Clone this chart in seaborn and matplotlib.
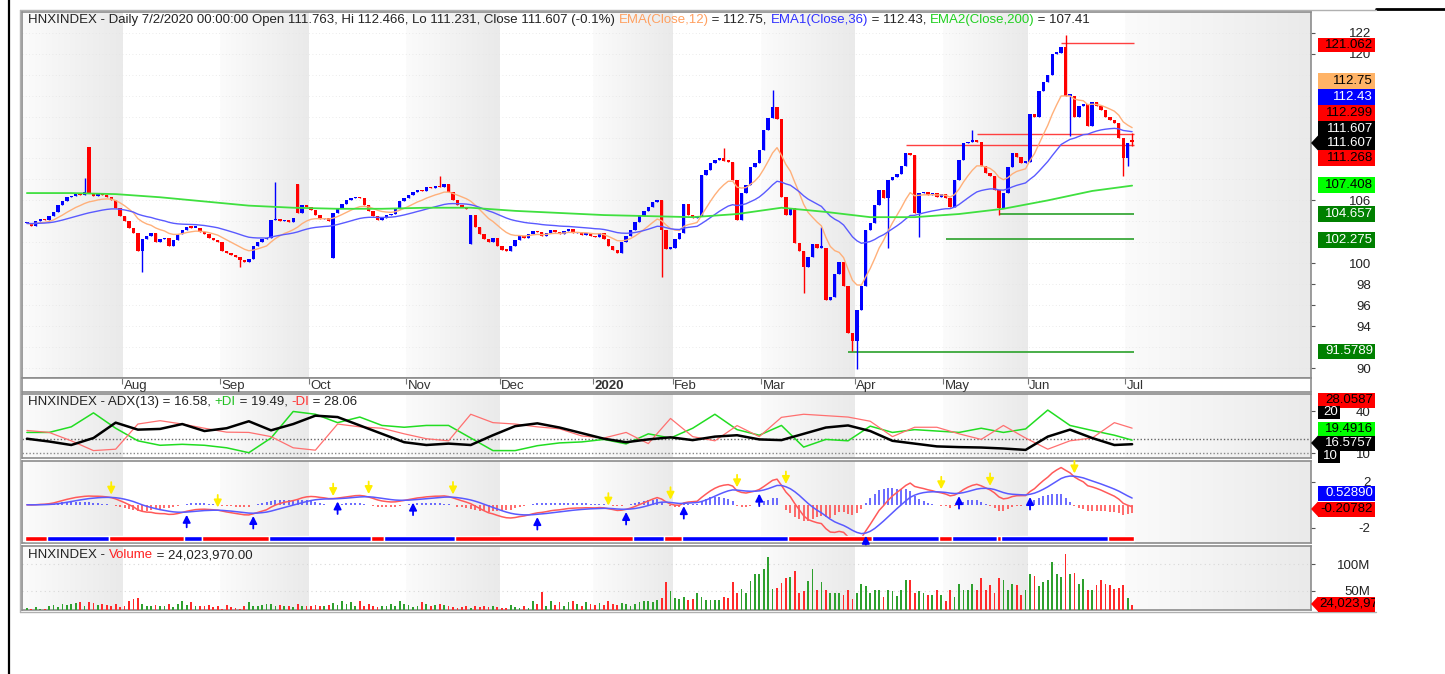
import numpy as np
import pandas as pd
import matplotlib
matplotlib.use("Agg")
import matplotlib.pyplot as plt
from matplotlib.patches import Rectangle, Polygon
from matplotlib.lines import Line2D
from matplotlib.colors import LinearSegmentedColormap
from matplotlib.transforms import Bbox, TransformedBbox
import seaborn as sns

# ---------------- data ----------------
# daily closes of HNXINDEX, early Jul 2019 .. 2 Jul 2020 (one value per session)
close = [
    103.8, 103.6, 104.0, 104.2, 104.1, 104.5, 104.9, 105.6, 105.9, 106.3,
    106.4, 106.6, 106.5, 106.8, 106.7, 106.4, 106.6, 106.5, 106.3, 106.0,
    105.3, 104.5, 104.0, 103.4, 102.9, 101.2, 102.3, 102.6, 102.9, 102.0,
    102.3, 102.4, 101.6, 102.2, 102.8, 103.2, 103.5, 103.4, 103.4, 103.0,
    102.8, 102.4, 102.2, 102.0, 101.2, 101.0, 100.8, 100.6, 100.3, 100.1,
    100.4, 101.6, 102.0, 102.3, 102.4, 104.1, 104.2, 104.0, 104.1, 103.9,
    104.3, 104.8, 105.6, 105.4, 105.1, 104.6, 104.2, 104.3, 104.0, 104.8,
    105.3, 105.7, 106.0, 106.2, 106.3, 106.2, 105.6, 105.0, 104.5, 104.1,
    104.3, 104.6, 104.7, 105.2, 105.9, 106.2, 106.5, 106.8, 107.0, 106.9,
    107.3, 107.2, 107.4, 107.3, 107.6, 106.8, 106.0, 105.6, 105.4, 105.2,
    104.6, 103.5, 102.8, 102.3, 102.0, 102.4, 101.6, 101.3, 101.2, 101.6,
    102.2, 102.6, 102.4, 102.8, 103.1, 103.0, 102.6, 102.9, 103.2, 103.0,
    102.8, 103.1, 103.3, 102.9, 103.0, 102.7, 102.9, 102.6, 102.5, 102.9,
    102.3, 101.6, 101.3, 101.0, 102.0, 102.6, 103.2, 103.9, 104.5, 105.0,
    105.4, 105.8, 106.0, 103.2, 101.4, 101.5, 102.3, 102.9, 105.7, 104.6,
    104.3, 104.5, 108.4, 108.9, 109.6, 109.9, 110.0, 109.8, 109.7, 107.9,
    104.1, 106.7, 107.5, 109.2, 109.6, 110.8, 112.7, 113.9, 114.9, 113.8,
    106.3, 104.6, 105.3, 101.9, 101.2, 99.6, 100.6, 101.8, 101.5, 101.5,
    96.5, 96.8, 99.0, 100.1, 97.8, 93.3, 92.6, 95.5, 97.8, 103.2,
    103.8, 105.6, 107.0, 106.2, 107.9, 108.2, 108.5, 109.3, 110.5, 110.3,
    104.8, 106.7, 106.8, 106.5, 106.7, 106.3, 106.6, 106.2, 105.4, 107.9,
    109.9, 111.5, 111.6, 111.8, 111.6, 109.3, 108.6, 108.3, 107.0, 105.3,
    106.7, 109.2, 110.5, 110.1, 109.6, 109.7, 114.2, 114.0, 116.4, 117.3,
    118.0, 120.0, 120.1, 120.6, 116.0, 116.0, 114.0, 115.0, 115.2, 113.1,
    115.4, 115.0, 114.6, 114.0, 113.7, 113.4, 112.0, 110.0, 111.5, 111.607,
]
# opens equal the previous close except where the chart shows a gap
open_gap = {14: 111.1, 61: 107.6, 69: 100.5, 100: 101.8, 249: 111.763}
# visible shadows beyond the body
high_wick = {13: 108.1, 56: 107.8, 93: 108.3, 157: 111.0, 168: 116.5, 179: 103.5,
             213: 112.7, 234: 121.8, 249: 112.466}
low_wick = {26: 99.2, 48: 99.6, 143: 98.7, 175: 97.2, 186: 91.58, 187: 89.9, 194: 101.5,
            201: 102.5, 219: 104.6, 235: 112.1, 247: 108.3, 248: 109.3, 249: 111.231}

# EMA(Close,200) read every 10 sessions
ema200_idx = [0, 10, 20, 30, 40, 50, 60, 70, 80, 90, 100, 110, 120, 130, 140, 150,
              160, 170, 180, 190, 200, 210, 220, 230, 240, 249]
ema200 = [106.7, 106.7, 106.6, 106.3, 105.9, 105.5, 105.3, 105.2, 105.2, 105.3, 105.3,
          105.0, 104.8, 104.6, 104.5, 104.4, 104.7, 105.3, 104.9, 104.4, 104.4, 104.7,
          105.2, 106.0, 106.9, 107.41]

# support / resistance lines: level and first session
red_levels = [121.062, 112.299, 111.268]
red_from = [233, 214, 198]
green_levels = [104.657, 102.275, 91.5789]
green_from = [219, 207, 185]

# ADX(13) panel, read every 5 sessions
adx_idx = list(range(0, 250, 5)) + [249]
adx = [20.5, 18.5, 16, 21, 32, 27, 27.5, 31, 26, 28, 33, 26.5, 31, 37, 36, 30, 24, 18,
       16, 17, 16, 23, 29.5, 31.5, 28.5, 24.5, 20.5, 18, 20, 21.5, 19.5, 22, 23, 20,
       19.5, 24, 28.5, 30, 26, 19, 17, 15, 14.5, 14.2, 13.5, 12.5, 22, 27, 21, 16, 16.58]
plus_di = [25, 25, 29, 39, 28, 19, 15.8, 16.5, 15.8, 14, 10.5, 21, 40, 38, 32, 36, 30,
           28.7, 30, 30, 21, 12, 12, 15.5, 17.5, 18.2, 20, 16.8, 24, 21, 28, 38, 27, 23,
           30, 14.5, 20, 19, 29.5, 25, 27, 26, 25, 28, 25, 27.5, 41, 30, 26.4, 23, 19.49]
minus_di = [26.4, 25, 19, 12, 13, 31, 33.4, 31, 28, 25.2, 25, 22, 14, 12.3, 31, 29, 28,
            24, 20.5, 19, 38, 32, 31, 29, 27.6, 22.5, 21, 25, 17, 35, 22, 19, 29.9, 22,
            35.8, 38, 37, 36, 33, 22, 28.7, 28.7, 24, 20, 30, 21, 13, 19, 21, 32, 28.06]

# MACD signal arrows and the trend strip under the MACD panel
sell_idx = [19, 43, 69, 77, 96, 131, 145, 160, 171, 206, 217, 236]
buy_idx = [36, 51, 70, 87, 115, 135, 148, 165, 189, 210, 226]
strip_start = [0, 5, 19, 36, 40, 55, 78, 81, 97, 137, 144, 148, 172, 191, 206, 209,
               219, 220, 244]
strip_up = [0, 1, 0, 1, 0, 1, 0, 1, 0, 1, 0, 1, 0, 1, 0, 1, 0, 1, 0]

# volume in millions
volume = [
    17, 15, 19, 16, 16, 22, 24, 20, 25, 23, 26, 27, 28, 22, 28, 27, 24, 25, 23, 22,
    26, 19, 22, 30, 35, 37, 26, 22, 21, 24, 22, 22, 25, 20, 25, 30, 24, 28, 22, 22,
    21, 23, 20, 22, 16, 24, 19, 17, 16, 22, 28, 22, 21, 23, 25, 26, 22, 24, 22, 21,
    20, 25, 22, 21, 22, 23, 22, 22, 24, 27, 23, 31, 25, 28, 22, 30, 22, 26, 22, 20,
    22, 21, 26, 22, 30, 26, 24, 20, 22, 28, 25, 22, 24, 26, 23, 22, 20, 17, 19, 22,
    17, 21, 20, 22, 19, 22, 20, 18, 17, 23, 20, 17, 22, 18, 30, 25, 47, 22, 30, 24,
    29, 22, 28, 30, 25, 22, 28, 26, 24, 27, 23, 31, 26, 24, 27, 25, 22, 26, 28, 30,
    30, 28, 33, 36, 66, 50, 36, 34, 38, 33, 34,
    45, 39, 33, 33, 33, 33, 39, 36, 67, 45, 54, 45, 69, 81, 81, 91, 114, 53, 56, 65,
    73, 75, 86, 45, 50, 69, 91, 51, 66, 52, 45, 45, 45, 42, 51, 34, 45, 63, 59, 45,
    51, 51, 39, 52, 50, 40, 52, 70, 70, 46, 49, 46, 42, 42, 51, 42, 30, 52, 39, 63,
    52, 52, 63, 52, 73, 51, 60, 45, 73, 70, 52, 63, 60, 42, 51, 81, 78, 59, 66, 70,
    104, 82, 75, 119, 82, 84, 63, 71, 51, 51, 60, 70, 62, 60, 54, 55, 60, 36, 24,
]

month_names = ['Aug', 'Sep', 'Oct', 'Nov', 'Dec', '2020', 'Feb', 'Mar', 'Apr', 'May', 'Jun', 'Jul']
month_start = [22, 44, 64, 86, 107, 128, 146, 166, 187, 207, 226, 248]

# right-hand scale labels that stay visible next to the value tags
price_ticks = [90, 94, 96, 98, 100, 106, 120, 122]
adx_ticks = [10, 40]
macd_ticks = [-2, 2]
vol_ticks = [50, 100]

price_tags = [121.062, 112.75, 112.43, 112.299, 111.607, 111.607, 111.268, 107.408,
              104.657, 102.275, 91.5789]
adx_tags = [28.0587, 20, 19.4916, 16.5757, 10]
macd_tags = [0.52890, -0.20782]

# ---------------- figure ----------------
sns.set_theme(style='white')
plt.rcParams['font.family'] = ['Liberation Sans', 'DejaVu Sans']
FS = 9.5
W, H = 1445, 674
fig = plt.figure(figsize=(W / 100, H / 100), dpi=100)
fig.patch.set_facecolor('white')


def add_ax(x0, y0, x1, y1):
    return fig.add_axes([x0 / W, 1 - y1 / H, (x1 - x0) / W, (y1 - y0) / H])


XL = (-1.1, 289.3)
idx = np.arange(len(close))
c = np.array(close)
o = np.r_[c[0], c[:-1]]
for k, v in open_gap.items():
    o[k] = v
hi = np.maximum(o, c)
lo = np.minimum(o, c)
for k, v in high_wick.items():
    hi[k] = v
for k, v in low_wick.items():
    lo[k] = v
up = c >= o

grad = LinearSegmentedColormap.from_list('g', ['#fbfbfb', '#eaeaea'])


def shade(ax, ylo, yhi):
    edges = [XL[0]] + [m - 0.5 for m in month_start] + [XL[1]]
    for k in range(0, len(edges) - 1, 2):
        ax.imshow(np.linspace(0, 1, 64).reshape(1, -1), cmap=grad, aspect='auto',
                  extent=(edges[k], edges[k + 1], ylo, yhi), zorder=0)
    ax.set_xlim(XL)
    ax.set_ylim(ylo, yhi)


def style(ax, ticks, labels):
    ax.yaxis.tick_right()
    ax.set_xticks([])
    ax.set_yticks(ticks)
    ax.set_yticklabels(labels)
    ax.tick_params(axis='y', direction='out', length=3, width=0.8, color='#555',
                   labelcolor='#222', labelsize=FS, pad=40, right=True, left=False)
    plt.setp(ax.get_yticklabels(), ha='right')
    for s in ax.spines.values():
        s.set_color('#8c8c8c')
        s.set_linewidth(1.2)


def rich(ax, x, y, parts):
    t = ax.text(x, y, parts[0][0], color=parts[0][1], fontsize=FS, transform=ax.transAxes,
                va='center', ha='left', zorder=20)
    for s, col in parts[1:]:
        t = ax.annotate(s, xy=(1, 0), xycoords=t, va='bottom', ha='left', color=col,
                        fontsize=FS, zorder=20, annotation_clip=False)


def tag(y, text, fc, tc, x0=1318, x1=1375, h=15, arrow=False, left=False):
    fig.add_artist(Rectangle((x0 / W, 1 - (y + h / 2) / H), (x1 - x0) / W, h / H,
                             transform=fig.transFigure, fc=fc, ec='none', zorder=10))
    if arrow:
        fig.add_artist(Polygon([(1311 / W, 1 - y / H), (x0 / W, 1 - (y - h / 2) / H),
                                (x0 / W, 1 - (y + h / 2) / H)], closed=True,
                               transform=fig.transFigure, fc=fc, ec='none', zorder=10))
    if left:
        t = fig.text((x0 + 1) / W, 1 - y / H, text, ha='left', va='center', color=tc,
                     fontsize=FS, zorder=11)
        t.set_clip_box(TransformedBbox(Bbox([[x0 / W, 0], [x1 / W, 1]]), fig.transFigure))
        t.set_clip_on(True)
    else:
        fig.text((x1 - 2) / W, 1 - y / H, text, ha='right', va='center', color=tc,
                 fontsize=FS, zorder=11)


# ---- price panel ----
ax = add_ax(22, 12, 1311, 378)
shade(ax, 89.05, 123.98)
for v in range(90, 123, 2):
    ax.axhline(v, color='#e4e4e4', lw=0.6, ls=(0, (1, 3)), zorder=1)
col = np.where(up, '#0000FF', '#FF0000')
ax.vlines(idx, lo, hi, colors=col, lw=1, zorder=3)
ax.bar(idx, np.maximum(np.abs(c - o), 0.12), bottom=np.minimum(o, c), width=0.76,
       color=col, linewidth=0, zorder=4)
ema12 = pd.Series(close).ewm(span=12, adjust=False).mean()
ema36 = pd.Series(close).ewm(span=36, adjust=False).mean()
sns.lineplot(x=idx, y=ema12, ax=ax, color='#FFB07A', lw=1, zorder=5)
sns.lineplot(x=idx, y=ema36, ax=ax, color='#5A5AFF', lw=1, zorder=5)
sns.lineplot(x=ema200_idx, y=ema200, ax=ax, color='#3FE03F', lw=1.3, zorder=5)
last = len(close) - 0.5
ax.hlines(red_levels, red_from, last, colors='#FF4040', lw=1, zorder=2)
ax.hlines(green_levels, green_from, last, colors='#3AA83A', lw=1.3, zorder=2)
ax.set_xlim(XL)
ax.set_ylim(89.05, 123.98)
ax.set_ylabel('')
style(ax, price_ticks, [str(v) for v in price_ticks])
rich(ax, 6 / 1289, 1 - 8 / 366, [
    ('HNXINDEX - Daily 7/2/2020 00:00:00 Open 111.763, Hi 112.466, Lo 111.231, '
     'Close 111.607 (-0.1%) ', '#222'),
    ('EMA(Close,12)', '#FFA060'), (' = 112.75, ', '#222'),
    ('EMA1(Close,36)', '#3030FF'), (' = 112.43, ', '#222'),
    ('EMA2(Close,200)', '#20D020'), (' = 107.41', '#222')])

tag_y = [45, 81, 97, 113, 129, 143, 158, 185, 214, 240, 351]
tag_h = [13, 15, 15, 15, 15, 15, 15, 15, 15, 15, 15]
tag_fc = ['#FF0000', '#FFB366', '#0000FF', '#FF0000', '#000000', '#000000', '#FF0000',
          '#00FF00', '#008000', '#008000', '#008000']
tag_tc = ['black', 'black', 'white', 'black', 'white', 'white', 'black', 'black',
          'white', 'white', 'white']
for k, v in enumerate(price_tags):
    tag(tag_y[k], f'{v:g}', tag_fc[k], tag_tc[k], h=tag_h[k], arrow=(k == 5))

# ---- month row ----
axm = add_ax(22, 378, 1311, 392)
axm.set_xlim(XL)
axm.set_ylim(0, 1)
axm.set_xticks([])
axm.set_yticks([])
for s in axm.spines.values():
    s.set_color('#8c8c8c')
    s.set_linewidth(1.2)
for m, name in zip(month_start, month_names):
    axm.vlines(m - 0.5, 0.55, 1, color='#777', lw=0.8)
    axm.text(m - 0.2, 0.42, name, ha='left', va='center', fontsize=FS, color='#333',
             fontweight='bold' if name == '2020' else 'normal')

# ---- ADX panel ----
ax2 = add_ax(22, 394, 1311, 458)
shade(ax2, 6.7, 52.5)
ax2.axhline(20, color='#666', lw=1, ls=(0, (1, 1.5)), zorder=1)
ax2.axhline(10, color='#888', lw=1, ls=(0, (1, 1.5)), zorder=1)
sns.lineplot(x=adx_idx, y=plus_di, ax=ax2, color='#22DD22', lw=1.1, zorder=3)
sns.lineplot(x=adx_idx, y=minus_di, ax=ax2, color='#FF7070', lw=0.9, zorder=3)
sns.lineplot(x=adx_idx, y=adx, ax=ax2, color='black', lw=1.8, zorder=4)
ax2.set_xlim(XL)
ax2.set_ylim(6.7, 52.5)
ax2.set_ylabel('')
style(ax2, adx_ticks, [str(v) for v in adx_ticks])
rich(ax2, 6 / 1289, 1 - 8 / 64, [
    ('HNXINDEX - ADX(13) = 16.58, ', '#222'), ('+DI', '#20C020'), (' = 19.49, ', '#222'),
    ('-DI', '#FF3030'), (' = 28.06', '#222')])
adx_y = [400, 412, 429, 443, 456]
adx_fc = ['#FF0000', '#000000', '#00FF00', '#000000', '#000000']
adx_tc = ['black', 'white', 'black', 'white', 'white']
for k, v in enumerate(adx_tags):
    narrow = v in (20, 10)
    tag(adx_y[k], f'{v:g}', adx_fc[k], adx_tc[k], x1=1340 if narrow else 1375,
        h=13 if narrow else 15, arrow=(k == 3))

# ---- MACD panel ----
ax3 = add_ax(22, 461, 1311, 543)
shade(ax3, -3.34, 3.83)
ema12m = pd.Series(close).ewm(span=12, adjust=False).mean()
ema26m = pd.Series(close).ewm(span=26, adjust=False).mean()
macd = ema12m - ema26m
signal = macd.ewm(span=9, adjust=False).mean()
hist = macd - signal
ax3.vlines(idx, 0, hist, colors=np.where(hist >= 0, '#3333FF', '#FF3333'), lw=1.2,
           alpha=0.85, zorder=2)
sns.lineplot(x=idx, y=macd, ax=ax3, color='#FF5A5A', lw=1.1, zorder=3)
sns.lineplot(x=idx, y=signal, ax=ax3, color='#5A5AFF', lw=1.1, zorder=3)
arrow_style = '-|>,head_width=0.28,head_length=0.55'
for i in sell_idx:
    ax3.annotate('', xy=(i, signal[i]), xytext=(0, 11), textcoords='offset points',
                 arrowprops=dict(arrowstyle=arrow_style, color='#FFEE00', lw=1.3,
                                 shrinkA=0, shrinkB=2, mutation_scale=8),
                 zorder=6, annotation_clip=False)
for i in buy_idx:
    ax3.annotate('', xy=(i, max(signal[i], -2.9)), xytext=(0, -11), textcoords='offset points',
                 arrowprops=dict(arrowstyle=arrow_style, color='#0000FF', lw=1.3,
                                 shrinkA=0, shrinkB=2, mutation_scale=8),
                 zorder=6, annotation_clip=False)
seg_end = strip_start[1:] + [len(close)]
for s0, s1, u in zip(strip_start, seg_end, strip_up):
    ax3.broken_barh([(s0 - 0.5, s1 - s0)], (-3.17, 0.44),
                    facecolors='#0000FF' if u else '#FF0000', zorder=5)
ax3.set_xlim(XL)
ax3.set_ylim(-3.34, 3.83)
ax3.set_ylabel('')
style(ax3, macd_ticks, [str(v) for v in macd_ticks])
tag(493, f'{macd_tags[0]:.5f}', '#0000FF', 'white')
tag(509, f'{macd_tags[1]:.5f}', '#FF0000', 'black', arrow=True)

# ---- volume panel ----
ax4 = add_ax(22, 546, 1311, 610)
shade(ax4, 13.9, 133.7)
for v in vol_ticks:
    ax4.axhline(v, color='#d8d8d8', lw=0.8, ls=(0, (1, 3)), zorder=1)
ax4.bar(idx, volume, width=0.4, color=np.where(up, '#2EA02E', '#FF2A2A'), linewidth=0,
        zorder=3)
ax4.set_xlim(XL)
ax4.set_ylim(13.9, 133.7)
style(ax4, vol_ticks, [f'{v}M' for v in vol_ticks])
rich(ax4, 6 / 1289, 1 - 9 / 64, [
    ('HNXINDEX - ', '#222'), ('Volume', '#FF2020'), (' = 24,023,970.00', '#222')])
tag(604, '24,023,970', '#FF0000', 'black', arrow=True, left=True)

# ---- page borders ----
fig.add_artist(Line2D([8.5 / W, 8.5 / W], [0, 1], color='black', lw=1.6,
                      transform=fig.transFigure))
fig.add_artist(Line2D([1376 / W, 1], [1 - 9 / H, 1 - 9 / H], color='black', lw=2,
                      transform=fig.transFigure))
fig.add_artist(Line2D([20 / W, 1376 / W], [1 - 10 / H, 1 - 10 / H], color='#b0b0b0',
                      lw=1, transform=fig.transFigure))
fig.add_artist(Line2D([20 / W, 20 / W], [1 - 612 / H, 1 - 10 / H], color='#b0b0b0',
                      lw=1, transform=fig.transFigure))
fig.add_artist(Line2D([20 / W, 1376 / W], [1 - 612 / H, 1 - 612 / H], color='#b0b0b0',
                      lw=1, transform=fig.transFigure))

fig.savefig('out.png', dpi=100, facecolor='white')
